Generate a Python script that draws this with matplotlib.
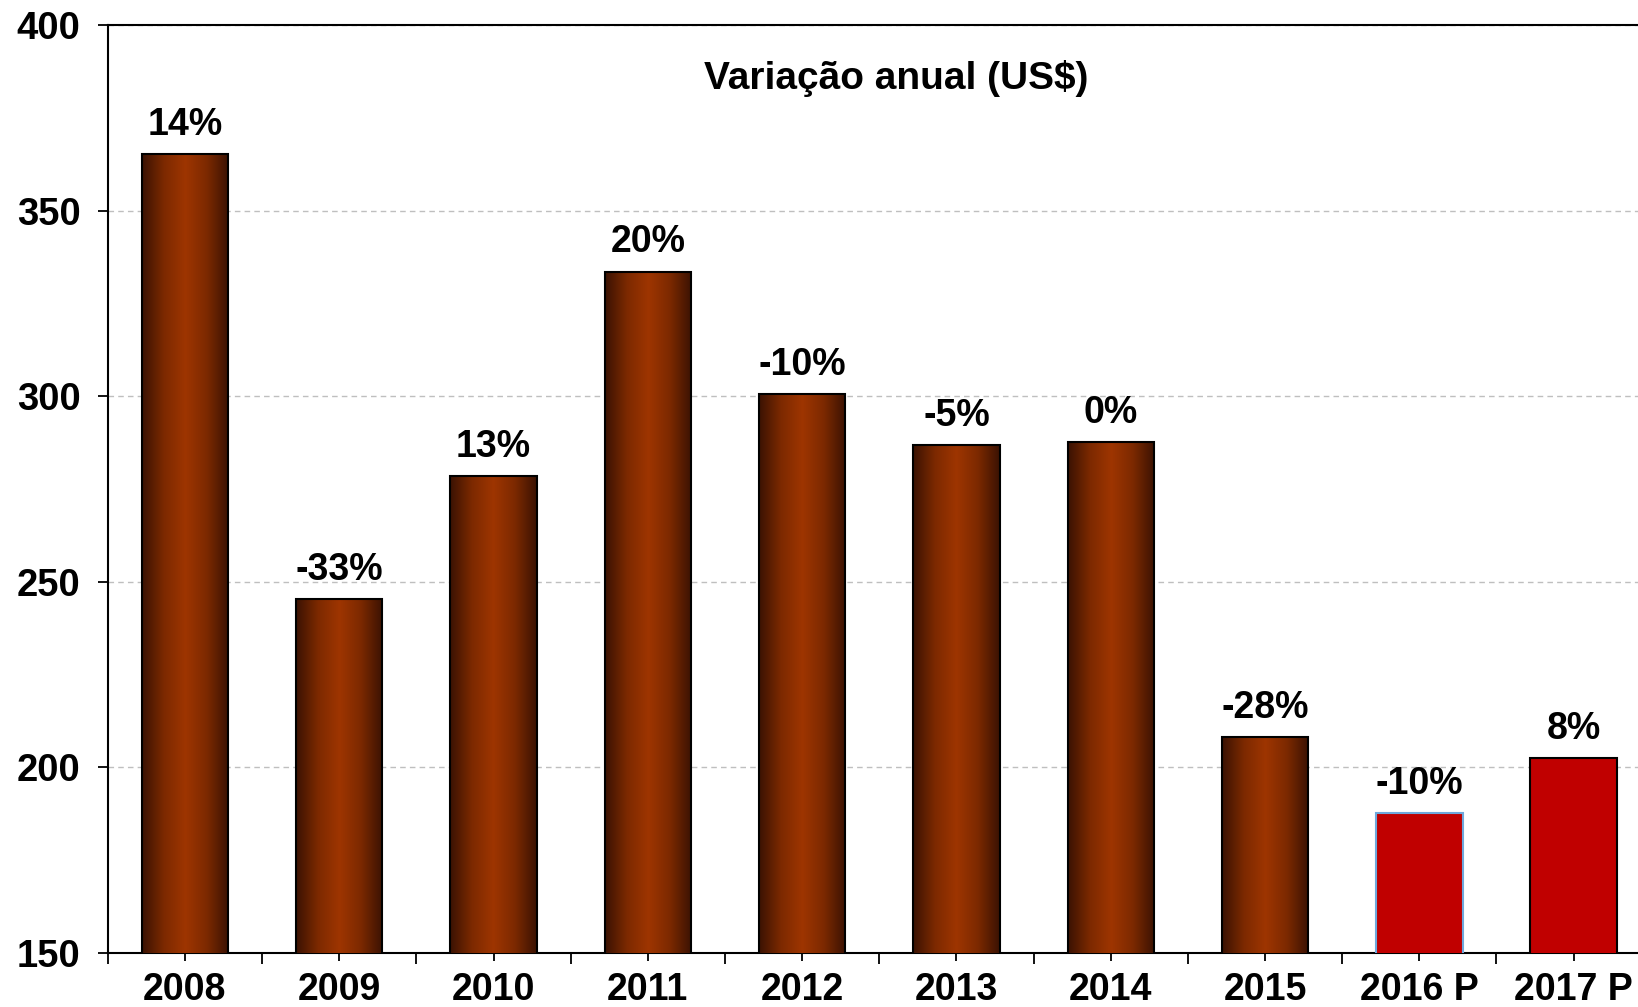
import numpy as np
import matplotlib
matplotlib.use("Agg")
import matplotlib.pyplot as plt
from matplotlib.colors import LinearSegmentedColormap
from matplotlib.ticker import FixedLocator, NullFormatter

plt.rcParams['font.family'] = ['Liberation Sans', 'DejaVu Sans']
plt.rcParams['font.weight'] = 'bold'

# exportações anuais (US$ bilhões) e variação sobre o ano anterior
anos = ['2008', '2009', '2010', '2011', '2012', '2013', '2014', '2015', '2016 P', '2017 P']
valores = [365.2, 245.2, 278.4, 333.6, 300.6, 286.9, 287.7, 208.1, 187.6, 202.4]
variacao = ['14%', '-33%', '13%', '20%', '-10%', '-5%', '0%', '-28%', '-10%', '8%']
projecao = [False] * 8 + [True, True]

fig = plt.figure(figsize=(16.38, 10.07), dpi=100)
ax = fig.add_axes([0.0658, 0.054, 0.942, 0.921])

x = np.arange(len(anos))
bars = ax.bar(x, valores, width=0.56, bottom=0, color='none', zorder=3)

# degradê horizontal escuro-claro-escuro para os anos realizados
cmap = LinearSegmentedColormap.from_list('marrom', ['#3a1203', '#7c2900', '#9e3500', '#7c2900', '#3a1203'])
grad = np.linspace(0, 1, 256).reshape(1, -1)

for i, (b, proj) in enumerate(zip(bars, projecao)):
    x0, w, h = b.get_x(), b.get_width(), b.get_height()
    if proj:
        b.set_facecolor('#c00000')
        b.set_edgecolor('#6fa8dc' if i == 8 else 'black')
        b.set_linewidth(1.5)
    else:
        im = ax.imshow(grad, cmap=cmap, aspect='auto', extent=(x0, x0 + w, 150, h),
                       interpolation='bicubic', zorder=3)
        im.set_clip_path(b)
        b.set_edgecolor('black')
        b.set_linewidth(1.5)
        b.set_zorder(4)

for xi, v, txt in zip(x, valores, variacao):
    ax.annotate(txt, (xi, v), xytext=(0, 8), textcoords='offset points',
                ha='center', va='bottom', fontsize=27, fontweight='bold')

ax.set_xlim(-0.5, len(anos) - 0.5)
ax.set_ylim(150, 400)
ax.set_yticks([150, 200, 250, 300, 350, 400])
ax.tick_params(axis='y', labelsize=27.5, length=7.5, width=1.3, direction='out', pad=12)

# traços nos limites das categorias, rótulos no centro
ax.xaxis.set_major_locator(FixedLocator(np.arange(-0.5, len(anos), 1.0)))
ax.xaxis.set_major_formatter(NullFormatter())
ax.xaxis.set_minor_locator(FixedLocator(x))
ax.set_xticklabels(anos, minor=True)
ax.tick_params(axis='x', which='major', length=8, width=1.3)
ax.tick_params(axis='x', which='minor', length=5.8, width=1.3, labelsize=27, pad=8)

for lbl in ax.get_yticklabels() + ax.get_xticklabels(minor=True):
    lbl.set_fontweight('bold')

ax.yaxis.grid(True, linestyle=(0, (4, 3)), color='#bfbfbf', linewidth=1.0, zorder=0)
ax.set_axisbelow(True)
for s in ['left', 'bottom', 'top']:
    ax.spines[s].set_linewidth(1.5)
ax.spines['right'].set_visible(False)

ax.text(0.511, 0.943, 'Variação anual (US$)', transform=ax.transAxes,
        ha='center', va='center', fontsize=28, fontweight='bold')

fig.savefig('out.png', dpi=100)
